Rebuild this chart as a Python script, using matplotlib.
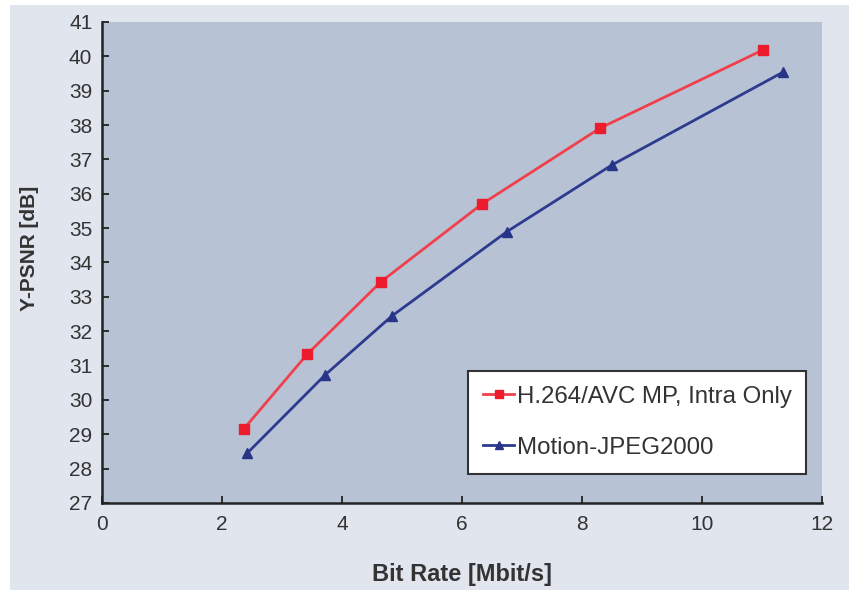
import matplotlib
matplotlib.use("Agg")
import matplotlib.pyplot as plt
from matplotlib.patches import Rectangle

# Data
h264_rate = [2.36, 3.42, 4.65, 6.33, 8.30, 11.02]
h264_psnr = [29.15, 31.33, 33.44, 35.70, 37.91, 40.19]
mj2k_rate = [2.42, 3.72, 4.83, 6.75, 8.50, 11.35]
mj2k_psnr = [28.45, 30.73, 32.44, 34.90, 36.84, 39.54]
series_labels = ["H.264/AVC MP, Intra Only", "Motion-JPEG2000"]
x_ticks = [0, 2, 4, 6, 8, 10, 12]
y_ticks = list(range(27, 42))

plt.rcParams['font.family'] = ['Liberation Sans', 'DejaVu Sans']

W, H = 849, 590
fig = plt.figure(figsize=(W / 100, H / 100), dpi=100)
fig.patch.set_facecolor('white')
fig.patches.append(Rectangle((10 / W, 0), 1, 1 - 5 / H, transform=fig.transFigure,
                             facecolor='#e1e5ee', edgecolor='none', zorder=-10))

ax = fig.add_axes([102 / W, 1 - 503 / H, (822 - 102) / W, (503 - 22) / H])
ax.set_facecolor('#b7c3d5')

ax.plot(h264_rate, h264_psnr, color='#f0404c', lw=2, marker='s', ms=6.5,
        mfc='#ec1c2c', mec='#ec1c2c', label=series_labels[0])
ax.plot(mj2k_rate, mj2k_psnr, color='#2e3a8e', lw=2, marker='^', ms=7.5,
        mfc='#283488', mec='#283488', label=series_labels[1])

ax.set_xlim(0, 12)
ax.set_ylim(27, 41)
ax.set_xticks(x_ticks)
ax.set_yticks(y_ticks)
for s in ['top', 'right']:
    ax.spines[s].set_visible(False)
for s in ['left', 'bottom']:
    ax.spines[s].set_linewidth(1.8)
    ax.spines[s].set_color('#222222')
ax.tick_params(direction='in', length=5, width=1.3, color='#222222',
               labelsize=15, labelcolor='#333333')
ax.tick_params(axis='y', pad=7)
ax.tick_params(axis='x', pad=9)

ax.set_xlabel('Bit Rate [Mbit/s]', fontsize=17, fontweight='bold', color='#333333')
ax.set_ylabel('Y-PSNR [dB]', fontsize=15, fontweight='bold', color='#333333')
ax.xaxis.set_label_coords(0.5, -0.125)
ax.yaxis.set_label_coords(-0.087, 0.53)

leg = ax.legend(loc='upper left', bbox_to_anchor=(468 / W, 1 - 371 / H),
                bbox_transform=fig.transFigure, fontsize=17.3, frameon=True,
                fancybox=False, edgecolor='#333333', facecolor='white', framealpha=1,
                handlelength=1.3, handletextpad=0.1, labelspacing=1.2,
                borderpad=0.62, markerscale=0.85, labelcolor='#333333',
                borderaxespad=0)
leg.get_frame().set_linewidth(1.5)

fig.savefig('out.png', dpi=100, facecolor=fig.get_facecolor())
